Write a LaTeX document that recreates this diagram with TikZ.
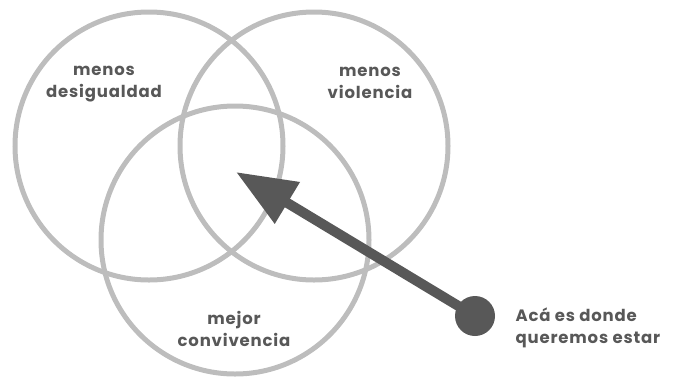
\documentclass[tikz,border=0pt]{standalone}
\usepackage{fontspec}
\setmainfont{Poppins}[LetterSpace=5]
\usepackage{tikz}
\usetikzlibrary{arrows.meta}

\definecolor{ringgray}{HTML}{BDBDBD}
\definecolor{inkgray}{HTML}{585858}

\tikzstyle{ring} = [circle, draw=ringgray, line width=5pt, minimum size=268pt, inner sep=0pt]
\tikzstyle{label} = [text=inkgray, font=\bfseries\fontsize{16.5}{22}\selectfont, align=center]
\tikzstyle{pointer} = [draw=inkgray, line width=10pt,
-{Triangle[length=60pt, width=46pt]}]

\begin{document}
\begin{tikzpicture}[x=1pt, y=-1pt]
\useasboundingbox (0,0) rectangle (675,376);

\node(ineq)[ring] at (149,146){};
\node(viol)[ring] at (314,146){};
\node(conv)[ring] at (235,240){};

\node(ineqtxt)[label] at (104,84){menos\\desigualdad};
\node(violtxt)[label] at (370,83){menos\\violencia};
\node(convtxt)[label] at (234,329){mejor\\convivencia};

\coordinate(goal) at (236,172);
\node(here)[circle, fill=inkgray, minimum size=40pt, inner sep=0pt] at (475,316){};
\node(heretxt)[label, align=left, anchor=west] at (512,328){Acá es donde\\queremos estar};

\draw[pointer](here.center) -- (goal);

\end{tikzpicture}
\end{document}
